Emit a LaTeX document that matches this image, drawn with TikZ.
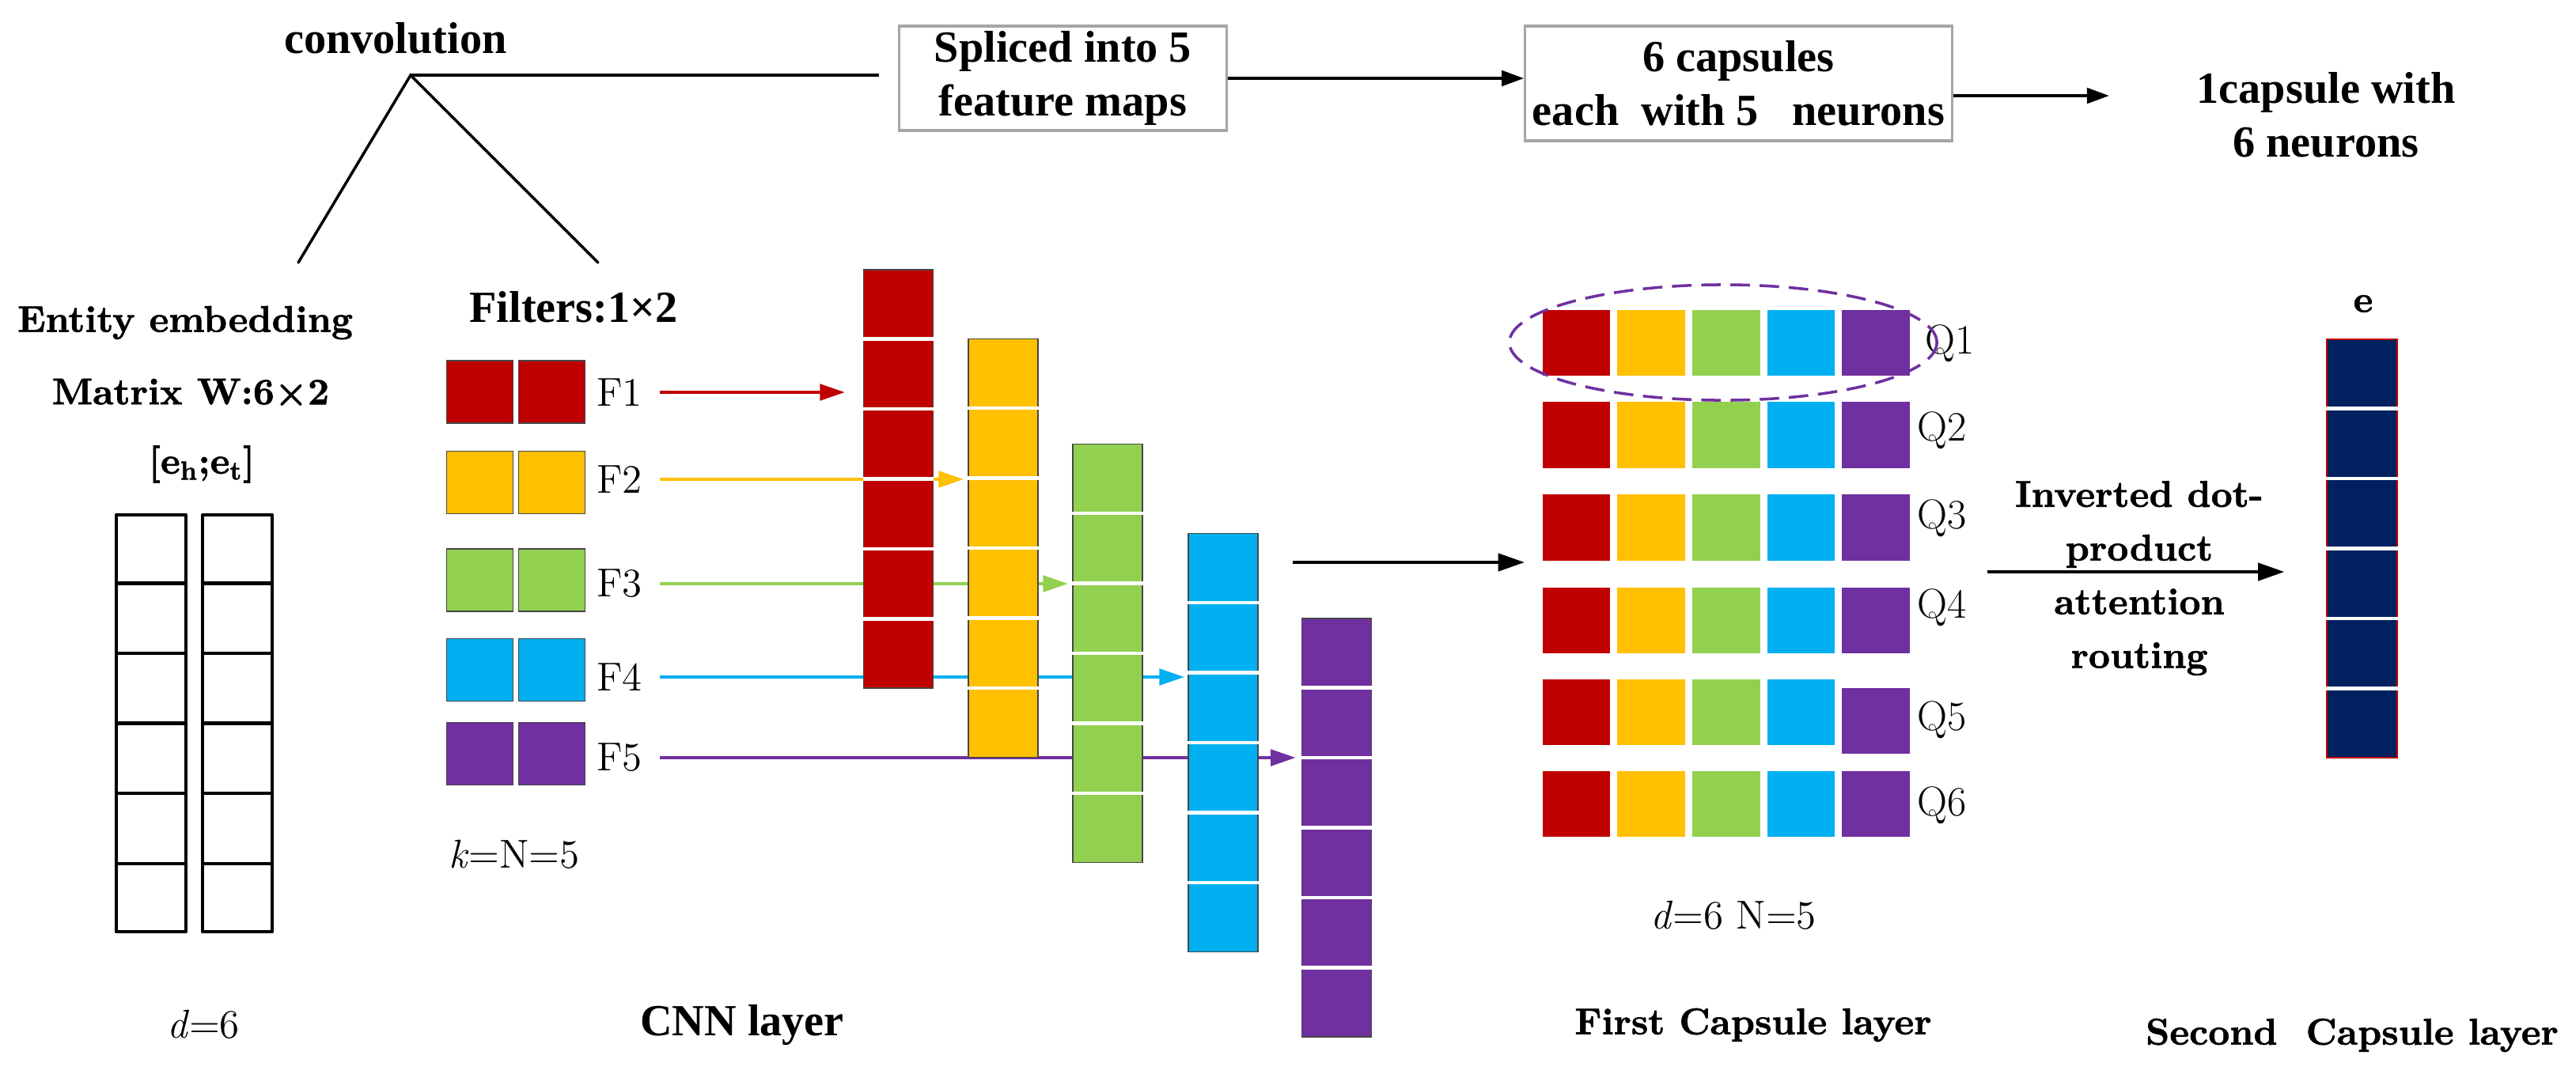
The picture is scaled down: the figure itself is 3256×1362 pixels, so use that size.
\documentclass[tikz,border=0pt]{standalone}
\usepackage{fontspec}
\newfontfamily\tnr{Liberation Serif}
\newfontfamily\lmbx{lmroman10-bold.otf}[FakeBold=1.3]
\usetikzlibrary{arrows.meta,calc,backgrounds}
\definecolor{cred}{HTML}{C00000}
\definecolor{cyel}{HTML}{FFC000}
\definecolor{cgrn}{HTML}{92D050}
\definecolor{cblu}{HTML}{00B0F0}
\definecolor{cpur}{HTML}{7030A0}
\definecolor{cnav}{HTML}{002060}
\begin{document}
\begin{tikzpicture}[x=0.01cm, y=-0.01cm,
  tnrlab/.style={font={\tnr\bfseries\fontsize{16pt}{19.4pt}\selectfont}, align=center, inner sep=0pt},
  bxlab/.style={font={\lmbx\fontsize{13.4pt}{19.3pt}\selectfont}, align=center, inner sep=0pt},
  rmlab/.style={font={\fontsize{14.5pt}{17pt}\selectfont}, inner sep=0pt},
  qlab/.style={font={\fontsize{15pt}{17pt}\selectfont}, inner sep=0pt},
  topbox/.style={draw=gray!70, line width=0.9pt, inner sep=0pt, tnrlab},
  thinline/.style={line width=1pt, line cap=round},
  toparrow/.style={line width=1.15pt, -{Triangle[length=8pt,width=5.5pt]}},
  bigarrow/.style={line width=1.4pt, -{Triangle[length=9.5pt,width=6.2pt]}},
  farrow/.style={line width=1.2pt, -{Triangle[length=9pt,width=5.8pt]}},
  embcol/.style={draw=black, line width=1.3pt, line join=round, minimum width=0.88cm, minimum height=5.27cm, inner sep=0pt},
  filtcell/.style={draw=gray!55!black, line width=0.4pt, minimum width=0.84cm, minimum height=0.79cm, inner sep=0pt},
  cnncol/.style={draw=gray!55!black, line width=0.4pt, minimum width=0.88cm, minimum height=5.29cm, inner sep=0pt},
  capcell/.style={minimum width=0.85cm, minimum height=0.83cm, inner sep=0pt},
  whitesep/.style={white, line width=1.3pt},
]
\useasboundingbox (0,0) rectangle (3256,1362);

% ---------- top row ----------
\node[tnrlab] (conv) at (500,48) {convolution};
\coordinate (apex) at (519,95);
\coordinate (legL) at (377,332);
\coordinate (legR) at (756,332);
\node[topbox, minimum width=4.13cm, minimum height=1.32cm] (box1) at (1343.5,99) {Spliced into 5\\feature maps};
\node[topbox, minimum width=5.39cm, minimum height=1.45cm] (box2) at (2197.5,105.5) {6 capsules\\each~ with 5~~ neurons};
\node[tnrlab] (cap1) at (2940,145) {1capsule with\\6 neurons};
\coordinate (capsarrowend) at (2666,121);
\draw[thinline] (legL) -- (apex) -- (legR);
\draw[line width=1.15pt, shorten >=7pt] (apex) -- (apex -| box1.west);
\draw[toparrow] (box1.east) -- (box1.east -| box2.west);
\draw[toparrow] ($(box2.east)+(0,15.5)$) -- (capsarrowend);

% ---------- entity embedding ----------
\node[bxlab] (ent) at (234,408) {Entity embedding};
\node[bxlab] (mat) at (241,496) {Matrix W:6×2};
\node[bxlab] (ehet) at (255,587) {[e\textsubscript{h};e\textsubscript{t}]};
\node[embcol] (m1) at (191,914.5) {};
\node[embcol] (m2) at (300,914.5) {};
\foreach \m in {m1,m2}
  \foreach \k in {1,...,5}
    \draw[line width=1.3pt] ($(\m.north west)!\k/6!(\m.south west)$) -- ($(\m.north east)!\k/6!(\m.south east)$);
\node[rmlab] (d6) at (257,1295) {\textit{d}=6};

% ---------- filters ----------
\node[tnrlab] (filt) at (725,388) {Filters:1×2};
\foreach \n/\col/\yy in {1/cred/495.5, 2/cyel/610, 3/cgrn/733.5, 4/cblu/847, 5/cpur/953} {
  \node[filtcell, fill=\col] (f\n a) at (606.5,\yy) {};
  \node[filtcell, fill=\col] (f\n b) at (697.5,\yy) {};
}
\foreach \n/\yy in {1/496, 2/606, 3/738, 4/856, 5/958}
  \node[rmlab] (F\n) at (783,\yy) {F\n};
\node[rmlab] (kN) at (650,1080) {\textit{k}=N=5};
\node[tnrlab] (cnnlab) at (938,1296) {CNN layer};

% ---------- CNN columns ----------
\foreach \n/\col/\cx/\cy in {1/cred/1135.5/605.5, 2/cyel/1268/693, 3/cgrn/1400/826, 4/cblu/1546/939, 5/cpur/1689.5/1046.5} {
  \node[cnncol, fill=\col] (c\n) at (\cx,\cy) {};
  \foreach \k in {1,...,5}
    \draw[whitesep] ($(c\n.north west)!\k/6!(c\n.south west)$) -- ($(c\n.north east)!\k/6!(c\n.south east)$);
}

\begin{pgfonlayer}{background}
  \fill[white] (0,0) rectangle (3256,1362);
  \foreach \n/\col/\s in {1/cred/6.5pt, 2/cyel/1.5pt, 3/cgrn/1.5pt, 4/cblu/1.2pt, 5/cpur/2pt}
    \draw[farrow, \col, shorten <=6pt, shorten >=\s] (F\n.east) -- (c\n.west |- F\n.east);
\end{pgfonlayer}

% ---------- first capsule layer ----------
\foreach \r/\ry in {1/433.5, 2/550, 3/667, 4/784, 5/900.5, 6/1016.5} {
  \foreach \k/\col/\cx in {1/cred/1992.5, 2/cyel/2087, 3/cgrn/2182, 4/cblu/2276.5} {
    \node[capcell, fill=\col] (q\r\k) at (\cx,\ry) {};
  }
}
\foreach \r/\ry in {1/433.5, 2/550, 3/667, 4/784, 5/911, 6/1016.5}
  \node[capcell, fill=cpur] (q\r5) at (2371,\ry) {};
\foreach \r/\lx/\ly in {1/2465/434, 2/2455/544, 3/2455/655, 4/2455/768, 5/2455/910, 6/2455/1018}
  \node[qlab] (Ql\r) at (\lx,\ly) {Q\r};
\draw[cpur, line width=1pt, dash pattern=on 7pt off 3.5pt] (2178,433) ellipse [x radius=2.70cm, y radius=0.73cm];
\node[rmlab] (dN) at (2191,1157) {\textit{d}=6 N=5};
\node[bxlab] (firstlab) at (2216,1296) {First Capsule layer};

\coordinate (cnnout) at (1634,711);
\draw[bigarrow, shorten >=6.3pt] (cnnout) -- (cnnout -| q31.west);

% ---------- second capsule layer ----------
\node[bxlab] (elab) at (2987,384) {e};
\node[draw=cred, line width=0.4pt, fill=cnav, minimum width=0.89cm, minimum height=5.29cm, inner sep=0pt] (ecol) at (2985.5,693.5) {};
\foreach \k in {1,...,5}
  \draw[whitesep] ($(ecol.north west)!\k/6!(ecol.south west)$) -- ($(ecol.north east)!\k/6!(ecol.south east)$);
\coordinate (rtstart) at (2512,723);
\draw[bigarrow, shorten >=15pt] (rtstart) -- (rtstart -| ecol.west);
\node[bxlab] (rt) at (2704,731) {Inverted dot-\\product\\attention\\routing};
\node[bxlab] (secondlab) at (2973,1309) {Second~ Capsule layer};
\end{tikzpicture}
\end{document}
